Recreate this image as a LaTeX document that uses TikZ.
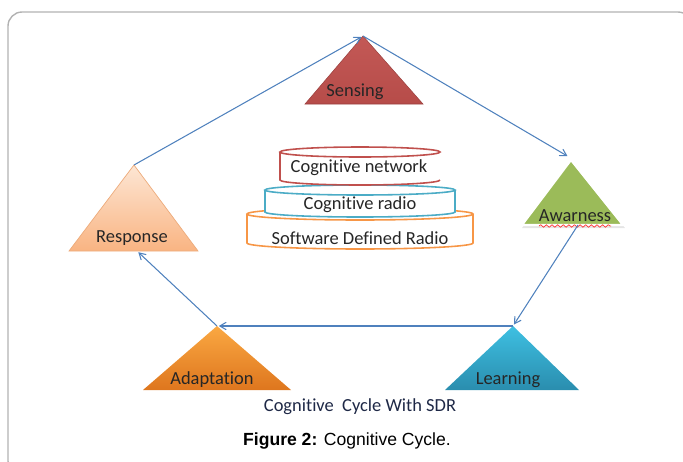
\documentclass[tikz,border=0pt]{standalone}
\usepackage{fontspec}
\setmainfont{Carlito}[Ligatures={NoCommon,NoContextual,NoRequired},RawFeature=-calt]
\newfontfamily\capfont{Liberation Sans}
\usepackage{tikz}
\usetikzlibrary{arrows,calc,decorations.pathmorphing}

\definecolor{arrowblue}{HTML}{4F81BD}
\definecolor{senscol}{HTML}{C0504D}
\definecolor{awarcol}{HTML}{9BBB59}
\definecolor{learntop}{HTML}{3EC0E2}
\definecolor{learnbot}{HTML}{2A8DAE}
\definecolor{adapttop}{HTML}{FAA842}
\definecolor{adaptbot}{HTML}{DE761E}
\definecolor{resptop}{HTML}{FDE6D4}
\definecolor{respbot}{HTML}{F9B482}
\definecolor{netred}{HTML}{C0504D}
\definecolor{radioblue}{HTML}{4BACC6}
\definecolor{sdrorange}{HTML}{F79646}

\begin{document}
\begin{tikzpicture}[x=0.02cm,y=-0.02cm,>=angle 60,
  flow/.style={->,draw=arrowblue,line width=0.6pt,shorten >=1pt},
  tri label/.style={font=\fontsize{10.5}{12}\selectfont,text=black!85},
  layer/.style={fill=white,line width=0.9pt}]

  \useasboundingbox (0,0) rectangle (683,461);
  \clip (0,0) rectangle (683,461);

  % frame
  \draw[gray!60,line width=0.8pt,rounded corners=8] (8,12) rectangle (692,475);

  % corners of the cycle
  \coordinate (sens) at (363,36);
  \coordinate (awar) at (571,160);
  \coordinate (learn) at (513,326);
  \coordinate (adapt) at (217,326);
  \coordinate (resp) at (134,165);
  \coordinate (awar foot) at (578,225);
  \coordinate (resp foot) at (137,251);

  % triangles
  \shade[top color=senscol!95!white,bottom color=senscol!95!black,draw=senscol!80!black,line width=0.3pt]
    (sens) -- ++(-58,68) -- ++(118,0) -- cycle;
  \fill[black!10] ($(awar)+(1,2)$) -- ++(-50,66) -- ++(103,0) -- cycle;
  \fill[awarcol,draw=white,line width=1.2pt] (awar) -- ++(-49,65) -- ++(101,0) -- cycle;
  \shade[top color=learntop,bottom color=learnbot]
    (learn) -- ++(-68,64) -- ++(134,0) -- cycle;
  \shade[top color=adapttop,bottom color=adaptbot]
    (adapt) -- ++(-74,64) -- ++(148,0) -- cycle;
  \shade[top color=resptop,bottom color=respbot,draw=respbot!95!black,line width=0.4pt]
    (resp) -- ++(-65,86) -- ++(129,0) -- cycle;

  \node[tri label] (sens label) at (355,92) {Sensing};
  \node[tri label] (awar label) at (575,216) {Awarness};
  \node[tri label] (learn label) at (508,380) {Learning};
  \node[tri label] (adapt label) at (212,380) {Adaptation};
  \node[tri label] (resp label) at (132,238) {Response};
  \draw[red!80,line width=0.4pt,decorate,decoration={snake,amplitude=0.7,segment length=3.2}]
    (539,226) -- (611,226);

  % layered cylinders
  \draw[layer,draw=sdrorange] (247,214) -- (247,243) arc[start angle=180,end angle=0,x radius=113,y radius=6]
    -- (473,214);
  \draw[layer,draw=sdrorange] (360,214) ellipse[x radius=113,y radius=6];
  \draw[layer,draw=radioblue] (265,190) -- (265,212) arc[start angle=180,end angle=0,x radius=95,y radius=5]
    -- (455,190);
  \draw[layer,draw=radioblue] (360,190) ellipse[x radius=95,y radius=5];
  \draw[layer,draw=netred] (280,152) -- (280,180) arc[start angle=180,end angle=0,x radius=80,y radius=5]
    -- (440,180);
  \draw[layer,draw=netred] (360,152) ellipse[x radius=80,y radius=5];

  \node[tri label] (net) at (359,168) {Cognitive network};
  \node[tri label] (radio) at (360,205) {Cognitive radio};
  \node[tri label] (sdr) at (360,238) {Software Defined Radio};

  % cycle
  \draw[flow] (resp) -- (sens);
  \draw[flow] (sens) -- ($(awar)+(-2,-3)$);
  \draw[flow] (awar foot) -- (learn);
  \draw[flow] (learn) -- (adapt);
  \draw[flow] (adapt) -- (resp foot);

  \node[tri label,text={rgb,255:red,30;green,40;blue,70}] (title) at (360,407) {Cognitive\ \ Cycle With SDR};
  \node[font=\capfont\fontsize{10}{12}\selectfont] (caption) at (347,441) {\textbf{Figure 2:} Cognitive Cycle.};
\end{tikzpicture}
\end{document}
